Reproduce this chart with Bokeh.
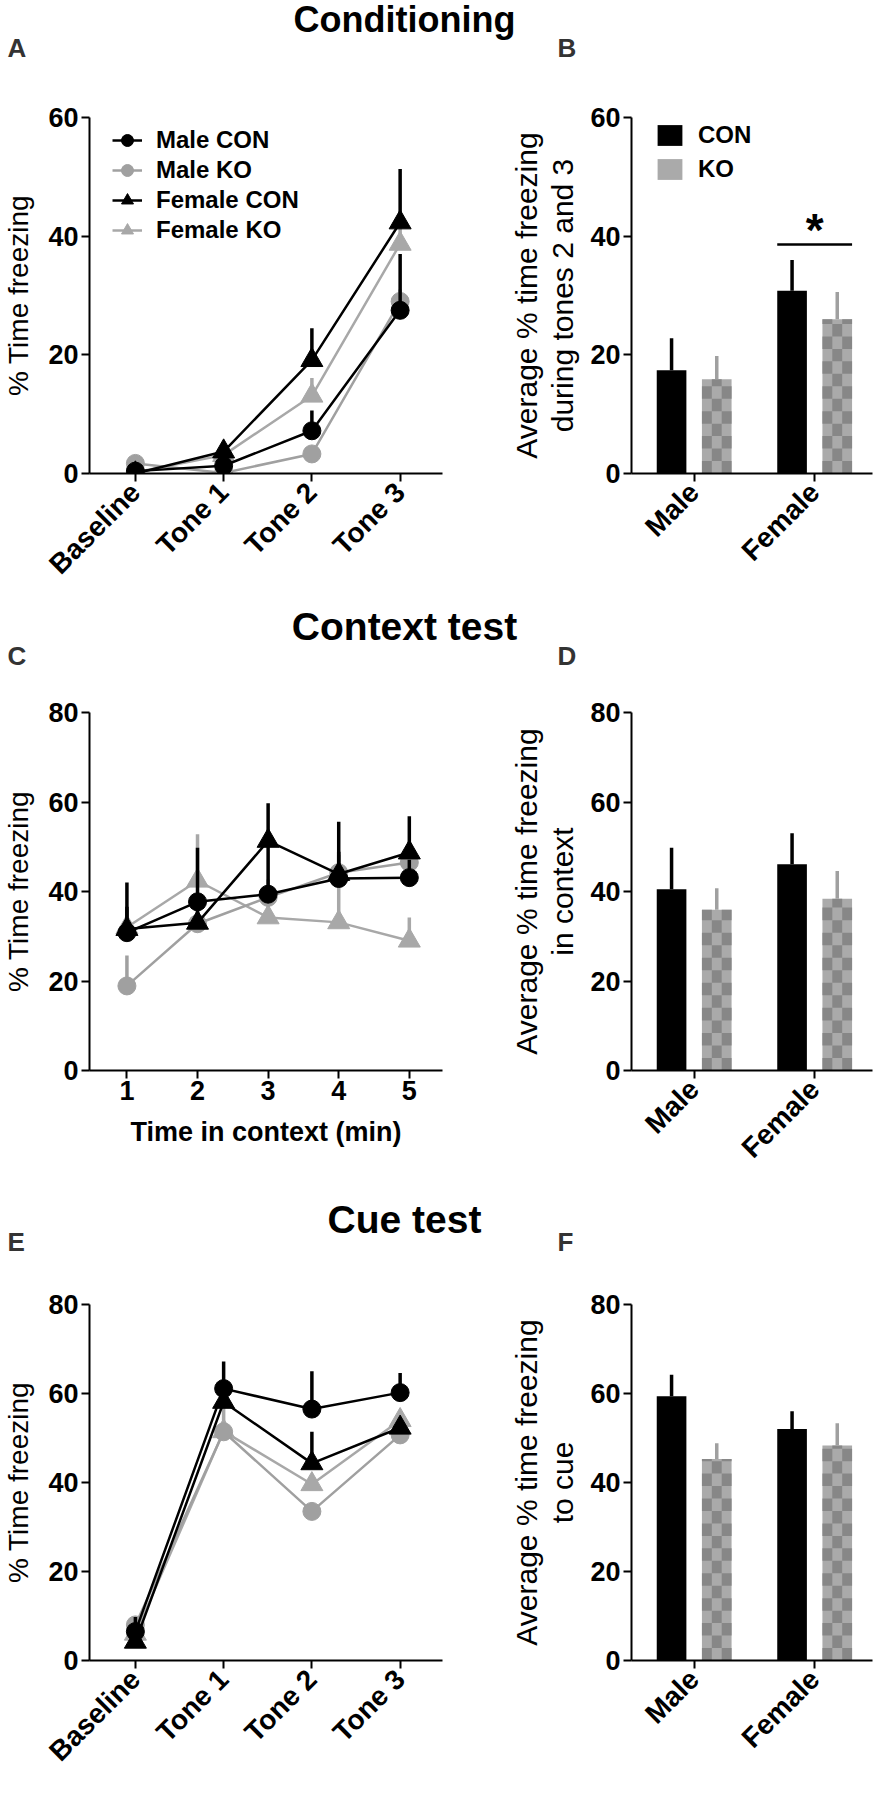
import math
import numpy as np
from bokeh.plotting import figure
from bokeh.models import Range1d, FixedTicker, Label, Legend, LegendItem
from bokeh.layouts import column, row
from bokeh.embed import file_html
from bokeh.resources import INLINE
from bokeh.core.properties import value

FONT = "Liberation Sans"

# ---------------- data ----------------
tone_categories = ["Baseline", "Tone 1", "Tone 2", "Tone 3"]
sex_groups = ["Male", "Female"]
series_names = ["Male CON", "Male KO", "Female CON", "Female KO"]
bar_names = ["CON", "KO"]

# A: conditioning (mean, upper SEM)
cond_male_con = [0.4, 1.3, 7.2, 27.5]
cond_male_con_sem = [0.5, 0.5, 3.4, 9.5]
cond_male_ko = [1.7, 0.1, 3.3, 29.0]
cond_male_ko_sem = [0.5, 0.3, 0.8, 2.0]
cond_female_con = [0.0, 3.7, 19.1, 42.3]
cond_female_con_sem = [0.3, 0.6, 5.4, 9.0]
cond_female_ko = [0.2, 3.1, 13.1, 38.7]
cond_female_ko_sem = [0.3, 0.5, 3.0, 3.0]

# B: average tones 2 and 3
cond_avg_con = [17.4, 30.8]
cond_avg_con_sem = [5.4, 5.2]
cond_avg_ko = [15.9, 26.0]
cond_avg_ko_sem = [3.9, 4.6]
cond_sig_group = 1
cond_sig_y = 38.6
cond_sig_text = "*"

# C: context test
context_minutes = [1, 2, 3, 4, 5]
ctx_male_con = [30.8, 37.7, 39.4, 42.9, 43.1]
ctx_male_con_sem = [11.2, 12.1, 12.0, 12.7, 4.0]
ctx_male_ko = [18.9, 32.8, 38.7, 44.2, 46.5]
ctx_male_ko_sem = [6.8, 5.0, 4.0, 4.0, 3.0]
ctx_female_con = [31.6, 33.0, 51.3, 43.9, 48.7]
ctx_female_con_sem = [5.0, 4.0, 8.4, 5.0, 8.1]
ctx_female_ko = [32.0, 42.4, 34.2, 33.1, 29.0]
ctx_female_ko_sem = [4.0, 10.4, 4.0, 10.5, 5.2]

# D: average in context
ctx_avg_con = [40.5, 46.1]
ctx_avg_con_sem = [9.3, 6.9]
ctx_avg_ko = [35.9, 38.4]
ctx_avg_ko_sem = [4.8, 6.2]

# E: cue test
cue_male_con = [6.5, 61.1, 56.5, 60.2]
cue_male_con_sem = [3.3, 6.1, 8.5, 4.4]
cue_male_ko = [8.0, 51.4, 33.5, 50.7]
cue_male_ko_sem = [1.5, 2.0, 2.0, 2.0]
cue_female_con = [4.2, 58.1, 44.3, 52.3]
cue_female_con_sem = [1.5, 2.0, 7.1, 2.0]
cue_female_ko = [6.0, 51.5, 39.6, 54.0]
cue_female_ko_sem = [1.5, 6.0, 2.0, 2.0]

# F: average to cue
cue_avg_con = [59.4, 52.0]
cue_avg_con_sem = [4.8, 4.0]
cue_avg_ko = [45.3, 48.3]
cue_avg_ko_sem = [3.5, 5.0]

# ---------------- styles ----------------
GRAY = "#a0a0a0"
LIGHT = "#aaaaaa"
DARK = "#878787"
SERIES_STYLE = {
    "Male CON": dict(marker="circle", color="black", size=18),
    "Male KO": dict(marker="circle", color=GRAY, size=18),
    "Female CON": dict(marker="triangle", color="black", size=22),
    "Female KO": dict(marker="triangle", color="#a8a8a8", size=22),
}
DRAW_ORDER = ["Female KO", "Male KO", "Female CON", "Male CON"]
BAR_OFFSET = 0.1875
BAR_WIDTH = 0.246
TICK_FONT = "27px"


def make_panel(width, height, borders, x_range, y_top):
    l, r, t, b = borders
    p = figure(width=width, height=height, x_range=x_range, y_range=Range1d(0, y_top),
               output_backend="svg", toolbar_location=None, tools="",
               min_border_left=l, min_border_right=r, min_border_top=t, min_border_bottom=b)
    p.outline_line_color = None
    p.xgrid.visible = False
    p.ygrid.visible = False
    for ax in (p.xaxis[0], p.yaxis[0]):
        ax.axis_line_width = 2
        ax.axis_line_color = "black"
        ax.major_tick_line_width = 2
        ax.major_tick_line_color = "black"
        ax.major_tick_out = 8
        ax.major_tick_in = 0
        ax.minor_tick_line_color = None
        ax.major_label_text_font = FONT
        ax.major_label_text_font_style = "bold"
        ax.major_label_text_color = "black"
        ax.axis_label_text_font = FONT
        ax.axis_label_text_font_style = "normal"
        ax.axis_label_text_color = "black"
    ya = p.yaxis[0]
    ya.ticker = FixedTicker(ticks=list(range(0, y_top + 1, 20)))
    ya.major_label_text_font_size = TICK_FONT
    ya.major_label_standoff = 3
    return p


def cat_xaxis(p, labels):
    xa = p.xaxis[0]
    ticks = list(range(len(labels)))
    xa.ticker = FixedTicker(ticks=ticks)
    xa.major_label_overrides = {t: lab for t, lab in zip(ticks, labels)}
    xa.major_label_orientation = math.pi / 4
    xa.major_label_text_font_size = "28px"
    xa.major_label_standoff = 6


def left_label(p, text):
    ya = p.yaxis[0]
    ya.axis_label = text
    ya.axis_label_text_font_size = "28px"
    ya.axis_label_standoff = 11


def right_label(p, text):
    ya = p.yaxis[0]
    ya.axis_label = text
    ya.axis_label_text_font_size = "30px"
    ya.axis_label_text_line_height = 1.1
    ya.axis_label_standoff = 8


def line_panel(p, xs, means, sems):
    xs = np.asarray(xs, dtype=float)
    rends = {}
    for name in DRAW_ORDER:
        st = SERIES_STYLE[name]
        y = np.asarray(means[name], dtype=float)
        e = np.asarray(sems[name], dtype=float)
        ln = p.line(xs, y, line_color=st["color"], line_width=2.5)
        p.segment(x0=xs, y0=y, x1=xs, y1=y + e, line_color=st["color"], line_width=3.5)
        mk = p.scatter(xs, y, marker=st["marker"], size=st["size"],
                       fill_color=st["color"], line_color=st["color"])
        rends[name] = (ln, mk)
    return rends


def bar_panel(p, con, con_sem, ko, ko_sem, cell_h):
    idx = np.arange(len(sex_groups), dtype=float)
    con = np.asarray(con, dtype=float)
    ko = np.asarray(ko, dtype=float)
    xc = idx - BAR_OFFSET
    xk = idx + BAR_OFFSET
    r_con = p.quad(left=xc - BAR_WIDTH / 2, right=xc + BAR_WIDTH / 2, bottom=0, top=con,
                   fill_color="black", line_color=None)
    r_ko = p.quad(left=xk - BAR_WIDTH / 2, right=xk + BAR_WIDTH / 2, bottom=0, top=ko,
                  fill_color=LIGHT, line_color=None)
    ncol = 3
    cw = BAR_WIDTH / ncol
    L, R, B, T = [], [], [], []
    for x0, v in zip(xk - BAR_WIDTH / 2, ko):
        nrow = int(math.ceil(v / cell_h))
        for rr in range(nrow):
            for cc in range(ncol):
                if (rr + cc) % 2 == 0:
                    L.append(x0 + cc * cw)
                    R.append(x0 + (cc + 1) * cw)
                    B.append(rr * cell_h)
                    T.append(min((rr + 1) * cell_h, v))
    p.quad(left=L, right=R, bottom=B, top=T, fill_color=DARK, line_color=None)
    p.segment(x0=xc, y0=con, x1=xc, y1=con + np.asarray(con_sem), line_color="black", line_width=3.5)
    p.segment(x0=xk, y0=ko, x1=xk, y1=ko + np.asarray(ko_sem), line_color=GRAY, line_width=3.5)
    cat_xaxis(p, sex_groups)
    return r_con, r_ko


def bar_legend(p, r_con, r_ko, frame_h):
    leg = Legend(items=[LegendItem(label=value(bar_names[0]), renderers=[r_con]),
                        LegendItem(label=value(bar_names[1]), renderers=[r_ko])],
                 location=(23, frame_h - 6 - 60), glyph_width=31, glyph_height=26,
                 label_height=26, label_standoff=13, spacing=6, padding=0, margin=0,
                 border_line_color=None, background_fill_alpha=0,
                 label_text_font=FONT, label_text_font_style="bold", label_text_font_size="24px",
                 label_text_color="black")
    p.add_layout(leg)


def strip(title, title_size, title_y, letter_y, letters=("", "")):
    p = figure(width=876, height=70, x_range=Range1d(0, 876), y_range=Range1d(70, 0),
               output_backend="svg", toolbar_location=None, tools="",
               x_axis_location=None, y_axis_location=None, min_border=0)
    p.outline_line_color = None
    p.grid.visible = False
    p.xgrid.visible = False
    p.ygrid.visible = False
    p.add_layout(Label(x=404, y=title_y, text=title, text_align="center", text_baseline="middle",
                       text_font=FONT, text_font_style="bold", text_font_size=title_size,
                       text_color="black"))
    for lx, txt in zip((7, 557), letters):
        p.add_layout(Label(x=lx, y=letter_y, text=txt, text_align="left", text_baseline="middle",
                           text_font=FONT, text_font_style="bold", text_font_size="26px",
                           text_color="#333333"))
    return p


LEFT_W, RIGHT_W = 450, 426
LB = (86, 8)
RB = (181, 4)

# ---------------- row 1: conditioning ----------------
H1 = 530
pA = make_panel(LEFT_W, H1, (LB[0], LB[1], 47, 127), Range1d(-0.52, 3.48), 60)
cat_xaxis(pA, tone_categories)
left_label(pA, "% Time freezing")
rA = line_panel(pA, range(len(tone_categories)),
                {"Male CON": cond_male_con, "Male KO": cond_male_ko,
                 "Female CON": cond_female_con, "Female KO": cond_female_ko},
                {"Male CON": cond_male_con_sem, "Male KO": cond_male_ko_sem,
                 "Female CON": cond_female_con_sem, "Female KO": cond_female_ko_sem})
legA = Legend(items=[LegendItem(label=value(n), renderers=list(rA[n])) for n in series_names],
              location=(23, 356 - 8 - 120), glyph_width=30, glyph_height=30, label_height=30,
              label_standoff=14, spacing=0, padding=0, margin=0,
              border_line_color=None, background_fill_alpha=0,
              label_text_font=FONT, label_text_font_style="bold", label_text_font_size="24px",
              label_text_color="black")
pA.add_layout(legA)

pB = make_panel(RIGHT_W, H1, (RB[0], RB[1], 47, 127), Range1d(-0.52, 1.48), 60)
right_label(pB, "Average % time freezing\nduring tones 2 and 3")
rBc, rBk = bar_panel(pB, cond_avg_con, cond_avg_con_sem, cond_avg_ko, cond_avg_ko_sem, 2.1)
bar_legend(pB, rBc, rBk, 356)
sig_x0 = cond_sig_group - BAR_OFFSET - BAR_WIDTH / 2
sig_x1 = cond_sig_group + BAR_OFFSET + BAR_WIDTH / 2
pB.segment(x0=[sig_x0], y0=[cond_sig_y], x1=[sig_x1], y1=[cond_sig_y], line_color="black", line_width=2.5)
pB.text(x=[cond_sig_group], y=[cond_sig_y], text=[cond_sig_text], text_align="center",
        text_baseline="alphabetic", y_offset=-14, text_font=value(FONT), text_font_style="bold",
        text_font_size="46px", text_color="black")

# ---------------- row 2: context ----------------
H2 = 523
pC = make_panel(LEFT_W, H2, (LB[0], LB[1], 42, 123), Range1d(0.47, 5.47), 80)
xaC = pC.xaxis[0]
xaC.ticker = FixedTicker(ticks=context_minutes)
xaC.major_label_text_font_size = "27px"
xaC.major_label_standoff = 2
xaC.axis_label = "Time in context (min)"
xaC.axis_label_text_font_style = "bold"
xaC.axis_label_text_font_size = "27px"
xaC.axis_label_standoff = 14
left_label(pC, "% Time freezing")
line_panel(pC, context_minutes,
           {"Male CON": ctx_male_con, "Male KO": ctx_male_ko,
            "Female CON": ctx_female_con, "Female KO": ctx_female_ko},
           {"Male CON": ctx_male_con_sem, "Male KO": ctx_male_ko_sem,
            "Female CON": ctx_female_con_sem, "Female KO": ctx_female_ko_sem})

pD = make_panel(RIGHT_W, H2, (RB[0], RB[1], 42, 123), Range1d(-0.52, 1.48), 80)
right_label(pD, "Average % time freezing\nin context")
bar_panel(pD, ctx_avg_con, ctx_avg_con_sem, ctx_avg_ko, ctx_avg_ko_sem, 2.8)

# ---------------- row 3: cue ----------------
H3 = 517
pE = make_panel(LEFT_W, H3, (LB[0], LB[1], 41, 118), Range1d(-0.52, 3.48), 80)
cat_xaxis(pE, tone_categories)
left_label(pE, "% Time freezing")
line_panel(pE, range(len(tone_categories)),
           {"Male CON": cue_male_con, "Male KO": cue_male_ko,
            "Female CON": cue_female_con, "Female KO": cue_female_ko},
           {"Male CON": cue_male_con_sem, "Male KO": cue_male_ko_sem,
            "Female CON": cue_female_con_sem, "Female KO": cue_female_ko_sem})

pF = make_panel(RIGHT_W, H3, (RB[0], RB[1], 41, 118), Range1d(-0.52, 1.48), 80)
right_label(pF, "Average % time freezing\nto cue")
bar_panel(pF, cue_avg_con, cue_avg_con_sem, cue_avg_ko, cue_avg_ko_sem, 2.8)

s1 = strip("Conditioning", "36px", 19, 47, ("A", "B"))
s2 = strip("Context test", "39px", 26, 55, ("C", "D"))
s3 = strip("Cue test", "39px", 26, 48, ("E", "F"))

layout = column(s1, row(pA, pB), s2, row(pC, pD), s3, row(pE, pF))

with open("out.html", "w") as f:
    f.write(file_html(layout, INLINE))
